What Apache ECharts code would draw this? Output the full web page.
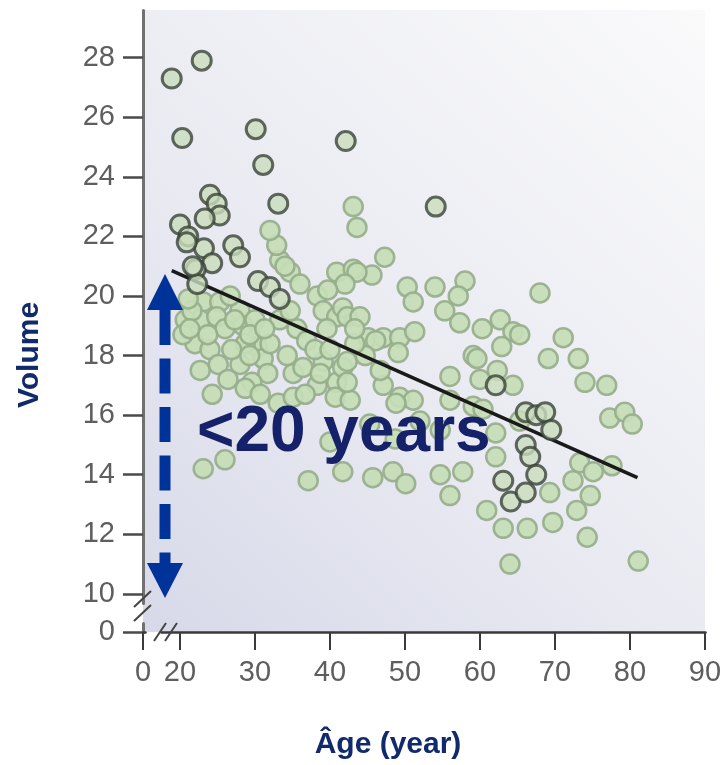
<!DOCTYPE html>
<html>
<head>
<meta charset="utf-8">
<script src="https://cdn.jsdelivr.net/npm/echarts@6/dist/echarts.min.js"></script>
<style>
html,body{margin:0;padding:0;background:#fff;}
#c{width:726px;height:765px;}
</style>
</head>
<body>
<div id="c"></div>
<script>
// ---- data ----
const ageLight = [23.1,25.3,22.7,24.9,28.0,28.4,26.0,22.0,24.0,25.1,28.0,30.3,31.1,24.3,20.7,26.7,30.0,28.7,22.7,31.7,23.1,26.0,21.6,26.9,29.3,23.7,26.4,
  33.1,35.1,36.4,39.1,40.9,41.7,38.3,39.1,35.6,36.9,40.9,41.7,40.9,43.1,33.3,34.7,32.9,35.1,38.3,40.7,42.7,37.1,40.0,41.7,32.0,34.0,36.0,38.0,34.3,39.6,33.3,32.0,34.7,
  43.1,43.6,47.3,45.6,43.6,42.0,50.3,51.1,42.3,44.0,45.1,47.1,49.3,51.3,49.1,42.3,42.3,47.1,49.3,51.1,46.1,48.8,45.7,48.4,50.1,44.7,46.7,43.3,45.3,48.7,52.0,54.7,
  54.0,58.0,57.1,55.3,57.3,60.3,62.7,64.4,62.9,59.1,56.0,56.0,59.6,62.3,60.0,59.1,54.7,57.7,56.0,60.9,60.4,62.1,62.1,64.4,65.3,68.0,71.1,69.1,73.1,74.0,76.9,
  77.3,79.3,80.3,73.3,75.1,77.6,72.4,74.7,69.3,72.9,69.7,66.3,63.1,74.3,64.0,81.1,65.3,39.7,21.1,20.4,29.6,
  21.3,27.3,29.3,31.3,28.7,30.7,38.7,36.7,43.3,40.0];
const volLight = [19.8,19.8,19.2,19.3,19.5,19.0,18.9,18.4,18.2,17.7,17.7,18.3,17.9,16.7,19.2,20.0,19.2,18.4,17.5,17.4,14.2,14.5,19.5,18.2,18.7,18.7,17.2,
  16.4,17.4,17.6,17.8,17.1,17.6,20.0,19.5,18.9,18.5,19.3,19.6,20.8,20.9,21.2,20.8,21.7,16.6,17.0,16.6,16.5,13.8,15.1,14.1,22.2,21.0,20.4,18.2,18.0,18.9,19.2,18.4,19.5,
  23.0,22.3,21.3,20.7,20.8,20.4,20.3,19.8,19.3,19.3,18.6,18.6,18.6,18.8,18.1,17.8,17.1,17.0,16.6,16.5,18.5,16.4,13.9,14.1,13.7,18.0,17.5,18.4,15.7,15.2,15.8,15.5,
  20.3,20.5,20.0,19.5,19.1,18.9,19.2,18.8,18.3,18.0,17.3,16.5,17.9,17.5,17.2,16.3,14.0,14.1,13.3,12.8,16.2,15.4,14.6,17.0,18.7,20.1,18.6,17.9,17.9,17.1,17.0,
  15.9,16.1,15.7,14.4,14.1,14.3,13.8,13.3,13.4,12.8,12.4,12.2,12.2,11.9,11.0,11.1,15.8,20.2,19.9,18.7,17.1,
  18.9,19.2,18.0,18.9,16.9,16.7,17.4,16.7,18.9,18.2];
const ageDark = [18.9,22.9,20.3,30.1,31.1,42.1,33.1,54.1,24.0,24.9,25.3,23.3,20.0,21.1,23.2,24.3,22.1,22.3,27.1,28.0,30.4,32.0,33.3,20.9,21.7,
  62.1,66.1,67.5,68.7,69.5,66.1,66.7,67.5,63.1,64.1,66.1];
const volDark = [27.3,27.9,25.3,25.6,24.4,25.2,23.1,23.0,23.4,23.1,22.7,22.6,22.4,22.0,21.6,21.1,20.9,20.4,21.7,21.3,20.5,20.3,19.9,21.8,21.0,
  17.0,16.1,16.0,16.1,15.5,15.0,14.6,14.0,13.8,13.1,13.4];
const regAge = [18.9, 81];
const regVol = [20.85, 13.9];
const xTicks = [0,20,30,40,50,60,70,80,90];
const yTicks = [0,10,12,14,16,18,20,22,24,26,28];
const xTitle = 'Âge (year)';
const yTitle = 'Volume';
const note = '<20 years';

const zip = (a,b) => a.map((v,i)=>[v,b[i]]);
const chart = echarts.init(document.getElementById('c'), null, {renderer:'canvas'});
const tickFont = {fontFamily:'Liberation Sans, Arial, sans-serif', fontSize:29, color:'#5e5e5e'};
const option = {
  animation:false,
  backgroundColor:'#ffffff',
  grid:{left:143, right:21, top:10, bottom:133, show:true, borderWidth:0,
    backgroundColor:{type:'linear', x:0, y:1, x2:1, y2:0, colorStops:[
      {offset:0,color:'#d7d9e9'},{offset:0.45,color:'#eaebf2'},{offset:1,color:'#fafafb'}]}},
  xAxis:{type:'value', min:0, max:90,
    breaks:[{start:0.3, end:17.5, gap:2.13}],
    breakArea:{show:false},
    axisLine:{show:true, onZero:false, lineStyle:{color:'#3a3a3a', width:2.5}},
    axisTick:{show:true, length:18, customValues:xTicks, lineStyle:{color:'#3a3a3a', width:2}},
    axisLabel:{customValues:xTicks, margin:26, ...tickFont},
    splitLine:{show:false}},
  yAxis:{type:'value', min:0, max:29.6,
    breaks:[{start:0.3, end:9.7, gap:0.68}],
    breakArea:{show:false},
    axisLine:{show:true, onZero:false, lineStyle:{color:'#707070', width:3}},
    axisTick:{show:true, length:20, customValues:yTicks, lineStyle:{color:'#4a4a4a', width:2.5}},
    axisLabel:{customValues:yTicks, margin:28, ...tickFont},
    splitLine:{show:false}},
  series:[
    {type:'scatter', name:'light', data:zip(ageLight,volLight), symbolSize:19, z:2,
      itemStyle:{color:'#c6ddb6', borderColor:'#97ae8c', borderWidth:2.5, opacity:0.92}},
    {type:'line', name:'fit', data:zip(regAge,regVol), symbol:'none', z:3,
      lineStyle:{color:'#1a1a1a', width:3.5}},
    {type:'scatter', name:'dark', data:zip(ageDark,volDark), symbolSize:19, z:4,
      itemStyle:{color:'#c9dcbc', borderColor:'#3a4438', borderWidth:3}}
  ],
  graphic:[
    {type:'text', z:100, x:30, y:355, rotation:Math.PI/2,
      style:{text:yTitle, fill:'#102a6b', font:'bold 30px Liberation Sans, Arial, sans-serif', align:'center', verticalAlign:'middle'}},
    {type:'text', z:100, x:388, y:745,
      style:{text:xTitle, fill:'#102a6b', font:'bold 30px Liberation Sans, Arial, sans-serif', align:'center', verticalAlign:'middle'}},
    {type:'text', z:100, x:197, y:433,
      style:{text:note, fill:'#15226a', font:'bold 64px Liberation Sans, Arial, sans-serif', align:'left', verticalAlign:'middle'}},
    {type:'polygon', z:100, shape:{points:[[165,274],[147,310],[183,310]]}, style:{fill:'#003399'}},
    {type:'polygon', z:100, shape:{points:[[165,598],[147,563],[183,563]]}, style:{fill:'#003399'}},
    {type:'line', z:100, shape:{x1:165,y1:310,x2:165,y2:563}, style:{stroke:'#003399', lineWidth:11, lineDash:[35,13.5]}},
    {type:'line', z:101, shape:{x1:134,y1:607,x2:151,y2:591}, style:{stroke:'#444', lineWidth:2}},
    {type:'line', z:101, shape:{x1:134,y1:621,x2:151,y2:605}, style:{stroke:'#444', lineWidth:2}},
    {type:'line', z:101, shape:{x1:154,y1:641,x2:166,y2:623}, style:{stroke:'#444', lineWidth:2}},
    {type:'line', z:101, shape:{x1:165,y1:641,x2:177,y2:623}, style:{stroke:'#444', lineWidth:2}}
  ]
};
chart.setOption(option);
</script>
</body>
</html>
